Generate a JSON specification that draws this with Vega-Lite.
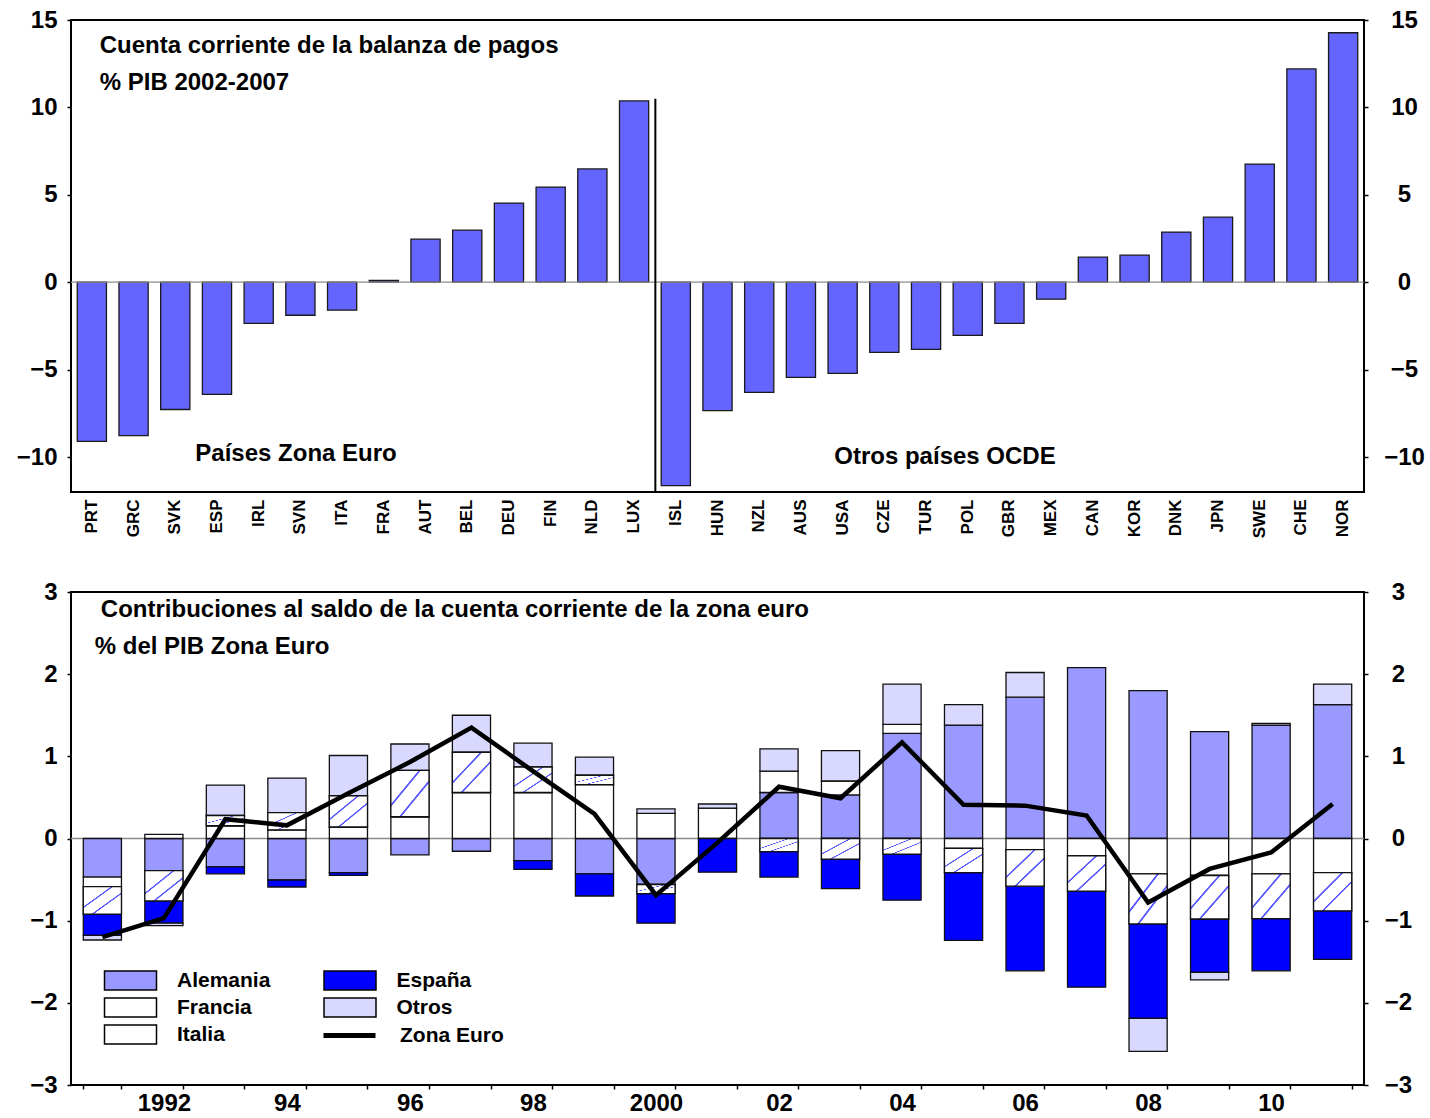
{
  "$schema": "https://vega.github.io/schema/vega-lite/v6.json",
  "background": "white",
  "padding": {"left": 15, "top": 7, "right": 4, "bottom": 4},
  "config": {
    "font": "Liberation Sans",
    "view": {"stroke": "black", "strokeWidth": 2},
    "axis": {"labelFont": "Liberation Sans", "labelFontWeight": "bold", "labelColor": "black", "grid": false, "domain": false, "tickColor": "black", "tickWidth": 1.5}
  },
  "datasets": {
    "paises": [
      {"pais": "PRT", "cc": -9.1}, {"pais": "GRC", "cc": -8.77}, {"pais": "SVK", "cc": -7.28}, {"pais": "ESP", "cc": -6.42},
      {"pais": "IRL", "cc": -2.35}, {"pais": "SVN", "cc": -1.89}, {"pais": "ITA", "cc": -1.6}, {"pais": "FRA", "cc": 0.1},
      {"pais": "AUT", "cc": 2.46}, {"pais": "BEL", "cc": 2.98}, {"pais": "DEU", "cc": 4.53}, {"pais": "FIN", "cc": 5.44},
      {"pais": "NLD", "cc": 6.48}, {"pais": "LUX", "cc": 10.37}, {"pais": "ISL", "cc": -11.63}, {"pais": "HUN", "cc": -7.34},
      {"pais": "NZL", "cc": -6.3}, {"pais": "AUS", "cc": -5.44}, {"pais": "USA", "cc": -5.21}, {"pais": "CZE", "cc": -4.01},
      {"pais": "TUR", "cc": -3.84}, {"pais": "POL", "cc": -3.04}, {"pais": "GBR", "cc": -2.35}, {"pais": "MEX", "cc": -0.97},
      {"pais": "CAN", "cc": 1.43}, {"pais": "KOR", "cc": 1.55}, {"pais": "DNK", "cc": 2.87}, {"pais": "JPN", "cc": 3.72},
      {"pais": "SWE", "cc": 6.76}, {"pais": "CHE", "cc": 12.2}, {"pais": "NOR", "cc": 14.27}
    ],
    "contrib": [
      {"year": 1991, "comp": "Alemania", "ord": 1, "v": -0.47}, {"year": 1991, "comp": "Francia", "ord": 2, "v": -0.115}, {"year": 1991, "comp": "Italia", "ord": 3, "v": -0.335}, {"year": 1991, "comp": "España", "ord": 4, "v": -0.26}, {"year": 1991, "comp": "Otros", "ord": 5, "v": -0.055},
      {"year": 1992, "comp": "Alemania", "ord": 1, "v": -0.39}, {"year": 1992, "comp": "Francia", "ord": 2, "v": 0.05}, {"year": 1992, "comp": "Italia", "ord": 3, "v": -0.37}, {"year": 1992, "comp": "España", "ord": 4, "v": -0.27}, {"year": 1992, "comp": "Otros", "ord": 5, "v": -0.03},
      {"year": 1993, "comp": "Alemania", "ord": 1, "v": -0.345}, {"year": 1993, "comp": "Francia", "ord": 2, "v": 0.155}, {"year": 1993, "comp": "Italia", "ord": 3, "v": 0.125}, {"year": 1993, "comp": "España", "ord": 4, "v": -0.085}, {"year": 1993, "comp": "Otros", "ord": 5, "v": 0.37},
      {"year": 1994, "comp": "Alemania", "ord": 1, "v": -0.505}, {"year": 1994, "comp": "Francia", "ord": 2, "v": 0.105}, {"year": 1994, "comp": "Italia", "ord": 3, "v": 0.21}, {"year": 1994, "comp": "España", "ord": 4, "v": -0.085}, {"year": 1994, "comp": "Otros", "ord": 5, "v": 0.42},
      {"year": 1995, "comp": "Alemania", "ord": 1, "v": -0.415}, {"year": 1995, "comp": "Francia", "ord": 2, "v": 0.14}, {"year": 1995, "comp": "Italia", "ord": 3, "v": 0.38}, {"year": 1995, "comp": "España", "ord": 4, "v": -0.035}, {"year": 1995, "comp": "Otros", "ord": 5, "v": 0.49},
      {"year": 1996, "comp": "Alemania", "ord": 1, "v": -0.2}, {"year": 1996, "comp": "Francia", "ord": 2, "v": 0.265}, {"year": 1996, "comp": "Italia", "ord": 3, "v": 0.565}, {"year": 1996, "comp": "Otros", "ord": 5, "v": 0.32},
      {"year": 1997, "comp": "Alemania", "ord": 1, "v": -0.155}, {"year": 1997, "comp": "Francia", "ord": 2, "v": 0.56}, {"year": 1997, "comp": "Italia", "ord": 3, "v": 0.49}, {"year": 1997, "comp": "Otros", "ord": 5, "v": 0.45},
      {"year": 1998, "comp": "Alemania", "ord": 1, "v": -0.27}, {"year": 1998, "comp": "Francia", "ord": 2, "v": 0.56}, {"year": 1998, "comp": "Italia", "ord": 3, "v": 0.31}, {"year": 1998, "comp": "España", "ord": 4, "v": -0.105}, {"year": 1998, "comp": "Otros", "ord": 5, "v": 0.29},
      {"year": 1999, "comp": "Alemania", "ord": 1, "v": -0.43}, {"year": 1999, "comp": "Francia", "ord": 2, "v": 0.655}, {"year": 1999, "comp": "Italia", "ord": 3, "v": 0.115}, {"year": 1999, "comp": "España", "ord": 4, "v": -0.27}, {"year": 1999, "comp": "Otros", "ord": 5, "v": 0.22},
      {"year": 2000, "comp": "Alemania", "ord": 1, "v": -0.56}, {"year": 2000, "comp": "Francia", "ord": 2, "v": 0.305}, {"year": 2000, "comp": "Italia", "ord": 3, "v": -0.11}, {"year": 2000, "comp": "España", "ord": 4, "v": -0.36}, {"year": 2000, "comp": "Otros", "ord": 5, "v": 0.055},
      {"year": 2001, "comp": "Francia", "ord": 2, "v": 0.37}, {"year": 2001, "comp": "España", "ord": 4, "v": -0.41}, {"year": 2001, "comp": "Otros", "ord": 5, "v": 0.05},
      {"year": 2002, "comp": "Alemania", "ord": 1, "v": 0.56}, {"year": 2002, "comp": "Francia", "ord": 2, "v": 0.26}, {"year": 2002, "comp": "Italia", "ord": 3, "v": -0.16}, {"year": 2002, "comp": "España", "ord": 4, "v": -0.31}, {"year": 2002, "comp": "Otros", "ord": 5, "v": 0.27},
      {"year": 2003, "comp": "Alemania", "ord": 1, "v": 0.53}, {"year": 2003, "comp": "Francia", "ord": 2, "v": 0.17}, {"year": 2003, "comp": "Italia", "ord": 3, "v": -0.25}, {"year": 2003, "comp": "España", "ord": 4, "v": -0.36}, {"year": 2003, "comp": "Otros", "ord": 5, "v": 0.37},
      {"year": 2004, "comp": "Alemania", "ord": 1, "v": 1.28}, {"year": 2004, "comp": "Francia", "ord": 2, "v": 0.11}, {"year": 2004, "comp": "Italia", "ord": 3, "v": -0.19}, {"year": 2004, "comp": "España", "ord": 4, "v": -0.56}, {"year": 2004, "comp": "Otros", "ord": 5, "v": 0.49},
      {"year": 2005, "comp": "Alemania", "ord": 1, "v": 1.38}, {"year": 2005, "comp": "Francia", "ord": 2, "v": -0.12}, {"year": 2005, "comp": "Italia", "ord": 3, "v": -0.295}, {"year": 2005, "comp": "España", "ord": 4, "v": -0.825}, {"year": 2005, "comp": "Otros", "ord": 5, "v": 0.25},
      {"year": 2006, "comp": "Alemania", "ord": 1, "v": 1.72}, {"year": 2006, "comp": "Francia", "ord": 2, "v": -0.135}, {"year": 2006, "comp": "Italia", "ord": 3, "v": -0.445}, {"year": 2006, "comp": "España", "ord": 4, "v": -1.03}, {"year": 2006, "comp": "Otros", "ord": 5, "v": 0.3},
      {"year": 2007, "comp": "Alemania", "ord": 1, "v": 2.08}, {"year": 2007, "comp": "Francia", "ord": 2, "v": -0.21}, {"year": 2007, "comp": "Italia", "ord": 3, "v": -0.43}, {"year": 2007, "comp": "España", "ord": 4, "v": -1.17},
      {"year": 2008, "comp": "Alemania", "ord": 1, "v": 1.8}, {"year": 2008, "comp": "Francia", "ord": 2, "v": -0.43}, {"year": 2008, "comp": "Italia", "ord": 3, "v": -0.61}, {"year": 2008, "comp": "España", "ord": 4, "v": -1.15}, {"year": 2008, "comp": "Otros", "ord": 5, "v": -0.4},
      {"year": 2009, "comp": "Alemania", "ord": 1, "v": 1.3}, {"year": 2009, "comp": "Francia", "ord": 2, "v": -0.45}, {"year": 2009, "comp": "Italia", "ord": 3, "v": -0.53}, {"year": 2009, "comp": "España", "ord": 4, "v": -0.65}, {"year": 2009, "comp": "Otros", "ord": 5, "v": -0.09},
      {"year": 2010, "comp": "Alemania", "ord": 1, "v": 1.38}, {"year": 2010, "comp": "Francia", "ord": 2, "v": -0.43}, {"year": 2010, "comp": "Italia", "ord": 3, "v": -0.545}, {"year": 2010, "comp": "España", "ord": 4, "v": -0.635}, {"year": 2010, "comp": "Otros", "ord": 5, "v": 0.02},
      {"year": 2011, "comp": "Alemania", "ord": 1, "v": 1.63}, {"year": 2011, "comp": "Francia", "ord": 2, "v": -0.415}, {"year": 2011, "comp": "Italia", "ord": 3, "v": -0.465}, {"year": 2011, "comp": "España", "ord": 4, "v": -0.59}, {"year": 2011, "comp": "Otros", "ord": 5, "v": 0.25}
    ],
    "zona": [
      {"year": 1991, "ze": -1.2}, {"year": 1992, "ze": -0.97}, {"year": 1993, "ze": 0.235}, {"year": 1994, "ze": 0.16},
      {"year": 1995, "ze": 0.55}, {"year": 1996, "ze": 0.93}, {"year": 1997, "ze": 1.35}, {"year": 1998, "ze": 0.82},
      {"year": 1999, "ze": 0.3}, {"year": 2000, "ze": -0.69}, {"year": 2001, "ze": -0.05}, {"year": 2002, "ze": 0.63},
      {"year": 2003, "ze": 0.49}, {"year": 2004, "ze": 1.17}, {"year": 2005, "ze": 0.41}, {"year": 2006, "ze": 0.4},
      {"year": 2007, "ze": 0.28}, {"year": 2008, "ze": -0.78}, {"year": 2009, "ze": -0.37}, {"year": 2010, "ze": -0.17},
      {"year": 2011, "ze": 0.42}
    ]
  },
  "spacing": 100,
  "bounds": "flush",
  "vconcat": [
    {
      "width": 1293,
      "height": 472,
      "layer": [
        {
          "data": {"name": "paises"},
          "mark": {"type": "bar", "fill": "#6464ff", "stroke": "#1a1a1a", "strokeWidth": 1.3},
          "encoding": {
            "x": {"field": "pais", "type": "nominal", "sort": null,
              "scale": {"domain": ["PRT","GRC","SVK","ESP","IRL","SVN","ITA","FRA","AUT","BEL","DEU","FIN","NLD","LUX","ISL","HUN","NZL","AUS","USA","CZE","TUR","POL","GBR","MEX","CAN","KOR","DNK","JPN","SWE","CHE","NOR"], "paddingInner": 0.3, "paddingOuter": 0.15},
              "axis": {"title": null, "labelAngle": -90, "labelFontSize": 17, "ticks": false, "labelPadding": 7}},
            "y": {"field": "cc", "type": "quantitative", "scale": {"domain": [-12, 15], "nice": false, "zero": false},
              "axis": {"orient": "left", "title": null, "values": [-10, -5, 0, 5, 10, 15], "labelFontSize": 24, "tickSize": 4, "labelPadding": 10}}
          }
        },
        {
          "data": {"values": [{}]},
          "mark": {"type": "rule", "color": "#8c8c8c", "strokeWidth": 1.3},
          "encoding": {
            "y": {"datum": 0, "type": "quantitative",
              "axis": {"orient": "right", "title": null, "values": [-10, -5, 0, 5, 10, 15], "labelFontSize": 24, "tickSize": 4, "labelPadding": 36, "labelAlign": "center"}}
          }
        },
        {
          "data": {"values": [{"pais": "ISL", "lo": -12, "hi": 10.5}]},
          "mark": {"type": "rule", "color": "black", "strokeWidth": 2},
          "encoding": {
            "x": {"field": "pais", "type": "nominal", "sort": null, "bandPosition": -0.2},
            "y": {"field": "lo", "type": "quantitative", "axis": null},
            "y2": {"field": "hi"}
          }
        },
        {
          "data": {"values": [{"t": "Cuenta corriente de la balanza de pagos", "pais": "PRT", "v": 13.5}, {"t": "% PIB 2002-2007", "pais": "PRT", "v": 11.4}]},
          "mark": {"type": "text", "align": "left", "baseline": "middle", "fontSize": 24, "fontWeight": "bold", "font": "Liberation Sans", "color": "black"},
          "encoding": {
            "x": {"field": "pais", "type": "nominal", "sort": null, "bandPosition": 0.77},
            "y": {"field": "v", "type": "quantitative", "axis": null},
            "text": {"field": "t"}
          }
        },
        {
          "data": {"values": [{"t": "Países Zona Euro", "pais": "SVN", "v": -9.8}]},
          "mark": {"type": "text", "align": "center", "baseline": "middle", "fontSize": 24, "fontWeight": "bold", "font": "Liberation Sans", "color": "black"},
          "encoding": {
            "x": {"field": "pais", "type": "nominal", "sort": null, "bandPosition": 0.35},
            "y": {"field": "v", "type": "quantitative", "axis": null},
            "text": {"field": "t"}
          }
        },
        {
          "data": {"values": [{"t": "Otros países OCDE", "pais": "POL", "v": -9.97}]},
          "mark": {"type": "text", "align": "center", "baseline": "middle", "fontSize": 24, "fontWeight": "bold", "font": "Liberation Sans", "color": "black"},
          "encoding": {
            "x": {"field": "pais", "type": "nominal", "sort": null, "bandPosition": -0.28},
            "y": {"field": "v", "type": "quantitative", "axis": null},
            "text": {"field": "t"}
          }
        }
      ],
      "resolve": {"axis": {"y": "independent"}}
    },
    {
      "width": 1293,
      "height": 493,
      "layer": [
        {
          "data": {"values": [{}]},
          "mark": {"type": "rule", "color": "#8c8c8c", "strokeWidth": 1.3},
          "encoding": {
            "y": {"datum": 0, "type": "quantitative", "scale": {"domain": [-3, 3], "nice": false, "zero": false},
              "axis": {"orient": "right", "title": null, "values": [-3, -2, -1, 0, 1, 2, 3], "labelFontSize": 24, "tickSize": 4, "labelPadding": 30, "labelAlign": "center"}}
          }
        },
        {
          "data": {"name": "contrib"},
          "mark": {"type": "bar", "stroke": "#111111", "strokeWidth": 1.3},
          "encoding": {
            "x": {"field": "year", "type": "ordinal", "scale": {"paddingInner": 0.38, "paddingOuter": 0.2},
              "axis": {"title": null, "labelAngle": 0, "labelFontSize": 24, "tickSize": 4, "tickBand": "extent", "labelPadding": 2,
                "labelExpr": "!isValid(datum.value) || datum.value % 2 == 1 ? '' : ((datum.value == 1992 || datum.value == 2000) ? '' + datum.value : slice('' + datum.value, 2))"}},
            "y": {"field": "v", "type": "quantitative", "aggregate": "sum", "stack": "zero",
              "axis": {"orient": "left", "title": null, "values": [-3, -2, -1, 0, 1, 2, 3], "labelFontSize": 24, "tickSize": 4, "labelPadding": 10}},
            "color": {"field": "comp", "type": "nominal",
              "scale": {"domain": ["Alemania", "Francia", "Italia", "España", "Otros"], "range": ["#9999ff", "#ffffff", "#ffffff", "#0000ff", "#d9d9ff"]},
              "legend": {
                "orient": "none", "legendX": 49, "legendY": 950, "title": null, "columns": 2, "padding": 0,
                "symbolType": "M-2.737,-1L2.737,-1L2.737,1L-2.737,1Z", "symbolSize": 361,
                "labelFontSize": 21, "labelFontWeight": "bold", "labelColor": "black", "labelFont": "Liberation Sans",
                "labelOffset": 36, "rowPadding": 2, "columnPadding": 49.5,
                "symbolStrokeWidth": 1.5, "symbolStrokeColor": "black", "symbolOpacity": 1
              }},
            "order": {"field": "ord", "type": "quantitative"}
          }
        },
        {
          "data": {"name": "contrib"},
          "mark": {"type": "bar", "stroke": "#111111", "strokeWidth": 1.3,
            "fill": {"gradient": "linear", "x1": 0, "y1": 0, "x2": 1, "y2": 1, "stops": [
              {"offset": 0, "color": "#ffffff"}, {"offset": 0.36, "color": "#ffffff"}, {"offset": 0.37, "color": "#5a5aff"}, {"offset": 0.39, "color": "#5a5aff"}, {"offset": 0.4, "color": "#ffffff"},
              {"offset": 0.6, "color": "#ffffff"}, {"offset": 0.61, "color": "#5a5aff"}, {"offset": 0.63, "color": "#5a5aff"}, {"offset": 0.64, "color": "#ffffff"}, {"offset": 1, "color": "#ffffff"}]}},
          "encoding": {
            "x": {"field": "year", "type": "ordinal"},
            "y": {"field": "v", "type": "quantitative", "aggregate": "sum", "stack": "zero", "axis": null},
            "detail": {"field": "comp", "type": "nominal"},
            "order": {"field": "ord", "type": "quantitative"},
            "opacity": {"condition": {"test": "datum.comp === 'Italia'", "value": 1}, "value": 0}
          }
        },
        {
          "data": {"name": "zona"},
          "mark": {"type": "line", "strokeWidth": 4.5},
          "encoding": {
            "x": {"field": "year", "type": "ordinal"},
            "y": {"field": "ze", "type": "quantitative", "axis": null},
            "stroke": {"datum": "Zona Euro", "type": "nominal", "scale": {"range": ["#000000"]},
              "legend": {"orient": "none", "legendX": 250, "legendY": 987, "title": null, "padding": 0,
                "symbolType": "stroke", "symbolSize": 2704, "symbolStrokeWidth": 5, "symbolStrokeColor": "black",
                "labelFontSize": 21, "labelFontWeight": "bold", "labelColor": "black", "labelFont": "Liberation Sans", "labelOffset": 22}}
          }
        },
        {
          "data": {"values": [{"t": "Contribuciones al saldo de la cuenta corriente de la zona euro", "year": 1991, "v": 2.78}]},
          "mark": {"type": "text", "align": "left", "baseline": "middle", "fontSize": 24, "fontWeight": "bold", "font": "Liberation Sans", "color": "black"},
          "encoding": {
            "x": {"field": "year", "type": "ordinal", "bandPosition": 0.46},
            "y": {"field": "v", "type": "quantitative", "axis": null},
            "text": {"field": "t"}
          }
        },
        {
          "data": {"values": [{"t": "% del PIB Zona Euro", "year": 1991, "v": 2.33}]},
          "mark": {"type": "text", "align": "left", "baseline": "middle", "fontSize": 24, "fontWeight": "bold", "font": "Liberation Sans", "color": "black"},
          "encoding": {
            "x": {"field": "year", "type": "ordinal", "bandPosition": 0.3},
            "y": {"field": "v", "type": "quantitative", "axis": null},
            "text": {"field": "t"}
          }
        }
      ],
      "resolve": {"axis": {"y": "independent"}}
    }
  ]
}
